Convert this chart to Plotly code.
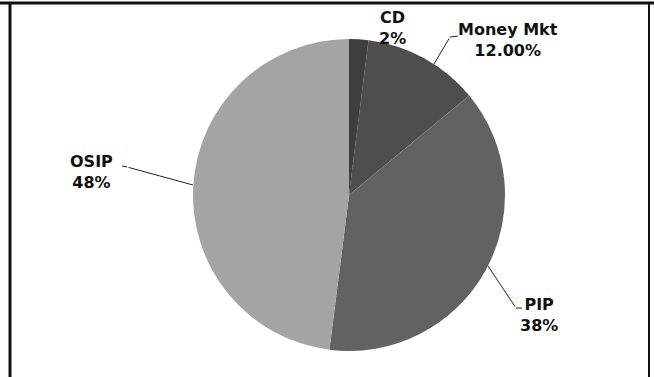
import plotly.graph_objects as go

categories = ["CD", "Money Mkt", "PIP", "OSIP"]
values = [2, 12, 38, 48]
value_labels = ["2%", "12.00%", "38%", "48%"]
colors = ["#3e3e3e", "#4e4e4e", "#626262", "#a4a4a4"]

W, H = 654, 377
CX, CY, R = 349, 195, 156

def px(x):
    return x / W

def py(y):
    return 1 - y / H

fig = go.Figure()
fig.add_trace(go.Pie(
    labels=categories,
    values=values,
    sort=False,
    direction="clockwise",
    rotation=0,
    textinfo="none",
    hoverinfo="label+percent",
    marker=dict(colors=colors, line=dict(width=0)),
    domain=dict(x=[px(CX - R), px(CX + R)], y=[py(CY + R), py(CY - R)]),
    showlegend=False,
))

font = dict(family="DejaVu Sans, sans-serif", size=16, color="#111111", weight="bold")

# label positions (pixel centers)
label_pos = {"CD": (393, 28), "Money Mkt": (508, 40), "PIP": (539, 315), "OSIP": (91, 172)}
for cat, vl in zip(categories, value_labels):
    x, y = label_pos[cat]
    fig.add_annotation(x=px(x), y=py(y), xref="paper", yref="paper",
                       text=f"{cat}<br>{vl}", showarrow=False, font=font,
                       align="center", xanchor="center", yanchor="middle")

# leader lines: (tip on pie edge, tail near label, end of short tick)
leaders = [((434, 64), (450, 37), (458, 36)),
           ((488, 266), (516, 308), (522, 308)),
           ((193, 185), (127, 167), (122, 166))]
for tip, tail, end in leaders:
    fig.add_annotation(x=px(tip[0]), y=py(tip[1]), xref="paper", yref="paper",
                       ax=tail[0] - tip[0], ay=tail[1] - tip[1], axref="pixel", ayref="pixel",
                       text="", showarrow=True, arrowhead=0, arrowwidth=1, arrowcolor="#222222")
    fig.add_shape(type="line", xref="paper", yref="paper",
                  x0=px(tail[0]), y0=py(tail[1]), x1=px(end[0]), y1=py(end[1]),
                  line=dict(color="#222222", width=1))

# frame lines
fig.add_shape(type="line", xref="paper", yref="paper", x0=0, x1=1, y0=py(3), y1=py(3),
              line=dict(color="#111111", width=3))
fig.add_shape(type="line", xref="paper", yref="paper", x0=px(10), x1=px(10), y0=py(3), y1=0,
              line=dict(color="#111111", width=3))
fig.add_shape(type="line", xref="paper", yref="paper", x0=px(649), x1=px(649), y0=py(3), y1=0,
              line=dict(color="#111111", width=2))

fig.update_layout(width=W, height=H, margin=dict(l=0, r=0, t=0, b=0),
                  paper_bgcolor="white", plot_bgcolor="white")

fig.write_html("out.html", config={"displayModeBar": False},
               post_script="document.body.style.margin='0';")
